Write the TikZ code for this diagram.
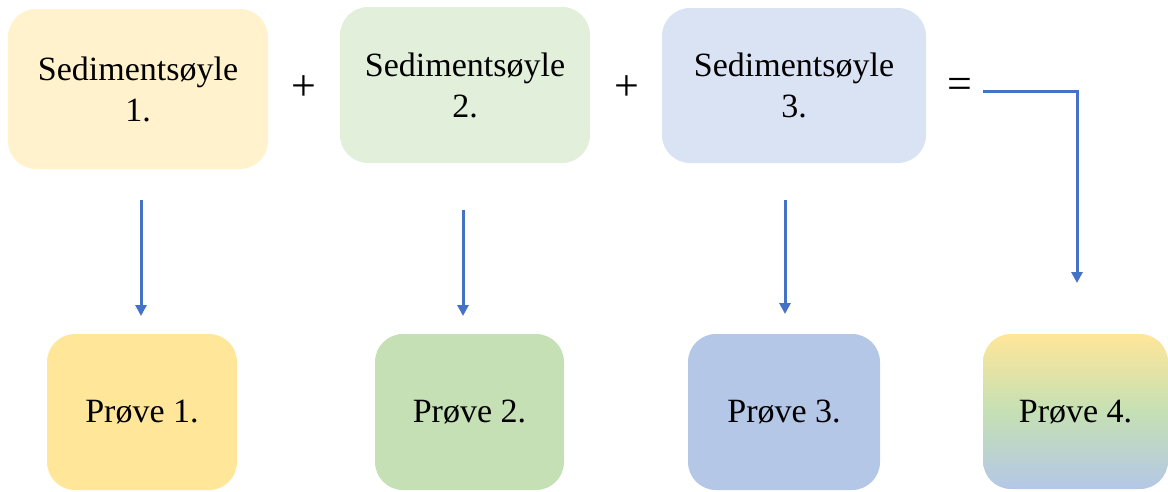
\documentclass[tikz,border=0pt]{standalone}
\usepackage{fontspec}
\setmainfont{Liberation Serif}
\usetikzlibrary{arrows.meta}
\definecolor{ytop}{HTML}{FFF2CC}
\definecolor{gtop}{HTML}{E2EFDA}
\definecolor{btop}{HTML}{DAE3F3}
\definecolor{ybot}{HTML}{FFE699}
\definecolor{gbot}{HTML}{C5E0B4}
\definecolor{bbot}{HTML}{B4C7E7}
\definecolor{arr}{HTML}{4472C4}
\begin{document}
\begin{tikzpicture}[x=1pt,y=-1pt,
  box/.style={rounded corners=28pt,inner sep=0pt,align=center,font=\fontsize{34}{41}\selectfont},
  sym/.style={font=\fontsize{44}{50}\selectfont,inner sep=0pt},
  conn/.style={draw=arr,line width=3pt,-{Triangle[width=11pt,length=11pt]}}]
\useasboundingbox (0,0) rectangle (1168,491);
% top boxes
\node[box,fill=ytop,minimum width=260pt,minimum height=160pt] (s1) at (138,89) {Sedimentsøyle\\1.};
\node[box,fill=gtop,minimum width=250pt,minimum height=156pt] (s2) at (465,85) {Sedimentsøyle\\2.};
\node[box,fill=btop,minimum width=264pt,minimum height=155pt] (s3) at (794,85.5) {Sedimentsøyle\\3.};
\node[sym] (p1) at (304,88) {+};
\node[sym] (p2) at (627,88) {+};
\node[sym] (eq) at (960,88) {=};
% bottom boxes
\node[box,fill=ybot,minimum width=190pt,minimum height=156pt] (r1) at (142,412) {Prøve 1.};
\node[box,fill=gbot,minimum width=189pt,minimum height=156pt] (r2) at (469.5,412) {Prøve 2.};
\node[box,fill=bbot,minimum width=192pt,minimum height=156pt] (r3) at (784,412) {Prøve 3.};
\shade[rounded corners=28pt,top color=ybot,bottom color=bbot,middle color=gbot] (983,334) rectangle (1168,489);
\node[box,minimum width=185pt,minimum height=155pt] (r4) at (1075.5,411.5) {Prøve 4.};
% connector endpoints
\coordinate (a1s) at (141,200); \coordinate (a1e) at (141,316);
\coordinate (a2s) at (463,210); \coordinate (a2e) at (463,316);
\coordinate (a3s) at (785,200); \coordinate (a3e) at (785,314);
\coordinate (a4s) at (983,91); \coordinate (a4c) at (1077,91); \coordinate (a4e) at (1077,283);
\draw[conn] (a1s) -- (a1e);
\draw[conn] (a2s) -- (a2e);
\draw[conn] (a3s) -- (a3e);
\draw[conn] (a4s) -- (a4c) -- (a4e);
\end{tikzpicture}
\end{document}
